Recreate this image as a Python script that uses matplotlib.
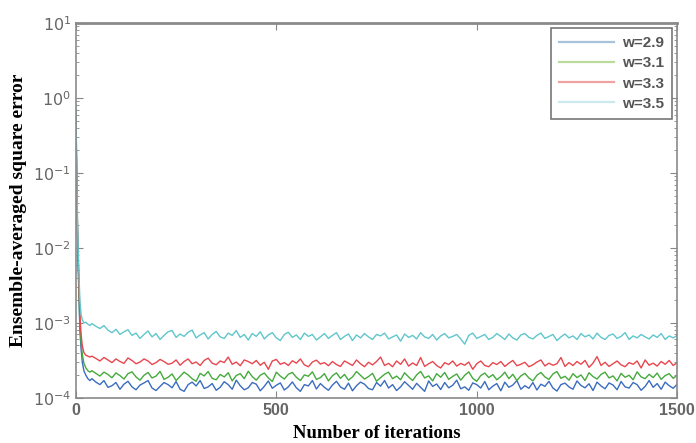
import numpy as np
import matplotlib
matplotlib.use("Agg")
import matplotlib.pyplot as plt
from matplotlib.lines import Line2D
from matplotlib.ticker import LogLocator, NullFormatter, LogFormatterSciNotation

# ---- data (values in units of 1e-4) ----
iter_early = [0, 2, 4, 6, 8, 10, 13, 16, 20, 25, 30, 35]
iter_late = list(range(40, 1501, 10))
iterations = iter_early + iter_late

labels = ["w=2.9", "w=3.1", "w=3.3", "w=3.5"]

blue_early = [5000, 900, 150, 50, 20, 8, 4.5, 3.0, 2.3, 2.0, 1.8, 1.7]
blue_late = [
    1.8,1.62,1.5,1.7,1.38,1.45,1.6,1.3,1.52,1.66,
    1.4,1.28,1.48,1.58,1.7,1.35,1.25,1.42,1.6,1.5,
    1.36,1.65,1.3,1.22,1.5,1.62,1.44,1.7,1.33,1.4,
    1.55,1.26,1.38,1.64,1.5,1.3,1.72,1.45,1.28,1.36,
    1.6,1.52,1.24,1.42,1.68,1.34,1.47,1.58,1.27,1.4,
    1.63,1.36,1.22,1.5,1.44,1.7,1.31,1.55,1.38,1.26,
    1.48,1.66,1.4,1.3,1.57,1.24,1.45,1.62,1.52,1.33,
    1.28,1.6,1.43,1.7,1.35,1.5,1.25,1.4,1.64,1.46,
    1.3,1.56,1.38,1.22,1.68,1.42,1.53,1.29,1.6,1.36,
    1.47,1.72,1.32,1.4,1.26,1.58,1.5,1.35,1.65,1.28,
    1.43,1.55,1.24,1.62,1.38,1.48,1.7,1.3,1.45,1.34,
    1.6,1.27,1.52,1.42,1.66,1.35,1.23,1.5,1.57,1.4,
    1.3,1.68,1.46,1.36,1.54,1.25,1.62,1.44,1.32,1.58,
    1.48,1.28,1.65,1.4,1.35,1.6,1.5,1.26,1.42,1.7,
    1.38,1.55,1.3,1.62,1.45,1.34,1.52]

green_early = [6000, 1000, 180, 60, 25, 10, 5.5, 3.8, 2.9, 2.5, 2.3, 2.2]
green_late = [
    2.3,2.12,1.95,2.2,2.05,1.85,2.15,1.98,1.78,2.1,
    2.22,1.9,1.72,2.0,2.18,1.84,1.95,2.25,1.76,1.88,
    2.08,1.7,1.93,2.2,2.02,1.8,1.66,2.12,1.96,2.24,
    1.82,1.74,2.05,1.9,2.16,1.68,1.98,2.1,1.8,2.26,
    1.92,1.72,2.0,2.14,1.85,1.65,2.2,1.95,1.78,2.06,
    2.18,1.88,1.7,2.02,1.94,2.22,1.76,1.86,2.1,1.68,
    1.97,2.15,1.82,2.05,1.72,1.9,2.24,2.0,1.78,1.92,
    2.12,1.66,1.86,2.06,2.2,1.8,1.95,1.74,2.16,1.9,
    1.7,2.02,2.25,1.84,1.96,1.68,2.1,1.88,2.18,1.76,
    1.93,2.08,1.72,2.0,2.22,1.82,1.66,1.98,2.14,1.86,
    2.04,1.74,1.92,2.2,1.8,2.06,1.7,1.96,2.12,1.84,
    1.68,2.0,2.18,1.9,1.76,2.08,2.24,1.82,1.94,1.72,
    2.1,1.86,2.02,1.7,2.16,1.92,1.78,2.05,2.2,1.84,
    1.96,1.68,2.12,1.88,2.0,1.74,2.22,1.9,1.8,2.06,
    1.86,2.14,1.76,1.98,2.1,1.82,2.0]

red_early = [7000, 1200, 200, 70, 30, 13, 7.0, 5.0, 4.0, 3.7, 3.6, 3.5]
red_late = [
    3.6,3.35,3.1,3.45,3.2,2.95,3.3,3.05,2.88,3.4,
    3.15,2.85,3.0,3.3,3.1,2.78,2.95,3.25,3.05,2.8,
    2.9,3.2,2.72,3.05,3.3,2.85,3.0,2.7,3.15,3.38,
    2.9,2.76,3.1,2.95,3.5,2.8,3.0,2.68,3.2,3.05,
    2.85,3.15,2.72,2.98,2.4,3.1,3.25,2.8,2.95,2.7,
    3.12,2.9,3.3,2.75,2.6,3.0,3.18,2.82,2.95,2.68,
    3.05,2.78,2.62,3.1,2.9,2.7,3.2,2.85,2.6,2.98,
    2.75,3.05,3.5,2.7,2.88,2.6,3.1,2.8,3.3,2.65,
    2.92,2.7,3.45,2.62,2.85,3.05,2.7,2.5,2.95,2.78,
    3.1,2.65,2.88,2.72,3.0,2.4,2.85,3.1,2.7,2.6,
    2.95,2.78,3.05,2.62,2.9,3.15,2.68,2.8,2.98,2.6,
    2.75,3.0,3.2,2.66,2.9,2.72,2.85,3.45,2.62,2.95,
    2.7,3.05,2.8,3.15,2.55,2.9,3.55,2.7,2.98,2.62,
    2.85,3.1,2.75,2.6,2.95,2.8,3.1,2.5,3.2,2.72,
    2.9,2.65,3.05,2.8,3.15,2.7,2.95]

cyan_early = [8000, 1500, 250, 90, 40, 20, 13, 11, 10, 10.2, 9.6, 9.2]
cyan_late = [
    9.8,9.0,8.4,9.2,8.0,7.4,8.2,7.0,7.6,8.1,
    6.8,7.3,6.2,7.0,7.8,6.5,7.2,6.0,6.8,7.6,
    7.9,6.4,7.1,6.6,7.5,8.0,6.3,6.9,7.4,6.1,
    7.0,7.7,6.5,6.2,7.3,6.8,7.9,6.4,7.0,5.9,
    7.2,6.6,7.6,6.1,6.9,7.4,6.3,5.8,7.0,7.5,
    6.4,6.9,6.0,7.3,6.6,7.0,5.9,6.5,7.2,6.2,
    6.8,7.4,6.0,6.6,7.1,5.8,6.9,6.3,7.2,6.5,
    6.0,7.0,6.7,7.3,6.1,6.5,6.9,5.7,7.1,6.4,
    6.8,6.1,7.4,6.5,6.2,7.0,5.9,6.7,7.2,6.3,
    6.6,7.0,6.1,5.2,6.8,7.3,6.2,6.6,7.0,6.0,
    6.4,7.2,6.6,6.0,7.1,6.3,5.9,6.9,7.2,6.4,
    6.1,6.8,7.3,6.2,6.6,7.0,5.8,6.5,7.1,6.3,
    6.7,6.0,7.2,6.5,6.9,6.1,7.3,6.4,6.0,6.8,
    7.1,6.2,6.6,7.4,6.0,6.7,6.3,7.0,6.5,6.1,
    6.9,6.4,7.2,6.0,6.7,6.3,6.8]

unit = 1e-4
series = [blue_early + blue_late, green_early + green_late,
          red_early + red_late, cyan_early + cyan_late]

line_colors = ["#3b6cc0", "#45aa3c", "#e8464e", "#5fc6cc"]
legend_colors = ["#a8c2da", "#b9dc9c", "#f0a2a2", "#cbe9ee"]

plt.rcParams["mathtext.fontset"] = "custom"
plt.rcParams["mathtext.rm"] = "Liberation Sans:bold"
plt.rcParams["mathtext.it"] = "Liberation Sans:bold"
plt.rcParams["mathtext.bf"] = "Liberation Sans:bold"

# ---- figure ----
fig = plt.figure(figsize=(6.96, 4.43), dpi=100)
ax = fig.add_axes([0.109, 0.102, 0.864, 0.846])

for vals, c in zip(series, line_colors):
    ax.plot(iterations, np.array(vals) * unit, color=c, lw=1.0)

ax.set_yscale("log")
ax.set_xlim(0, 1500)
ax.set_ylim(1e-4, 1e1)
ax.set_xticks([0, 500, 1000, 1500])
ax.yaxis.set_major_locator(LogLocator(base=10, numticks=10))
ax.yaxis.set_minor_locator(LogLocator(base=10, subs=np.arange(2, 10), numticks=20))
ax.yaxis.set_minor_formatter(NullFormatter())
ax.yaxis.set_major_formatter(LogFormatterSciNotation())

tick_gray = "#666666"
ax.tick_params(which="both", direction="in", top=True, right=True, colors="#888888")
ax.tick_params(which="major", length=5, labelsize=11.5, labelcolor=tick_gray)
ax.tick_params(which="minor", length=2.5)
for lab in ax.get_xticklabels():
    lab.set_fontfamily("Liberation Sans")
    lab.set_fontweight("bold")

for s in ax.spines.values():
    s.set_color("#8a8a8a")
    s.set_linewidth(1.2)
ax.spines["top"].set_linewidth(2.0)

ax.set_xlabel("Number of iterations", fontfamily="Liberation Serif",
              fontweight="bold", fontsize=13.5, labelpad=5)
ax.set_ylabel("Ensemble-averaged square error", fontfamily="Liberation Serif",
              fontweight="bold", fontsize=14, labelpad=4)

handles = [Line2D([], [], color=c, lw=1.6) for c in legend_colors]
leg = ax.legend(handles, labels, loc="upper right", bbox_to_anchor=(0.992, 0.987),
                fancybox=False, borderaxespad=0,
                prop={"family": "Liberation Sans", "weight": "bold", "size": 11},
                labelcolor="#555555", handlelength=3.6, handletextpad=0.5,
                labelspacing=0.4, framealpha=1, borderpad=0.55)
leg.get_frame().set_edgecolor("#777777")
leg.get_frame().set_linewidth(1.2)

fig.savefig("out.png", dpi=100)
